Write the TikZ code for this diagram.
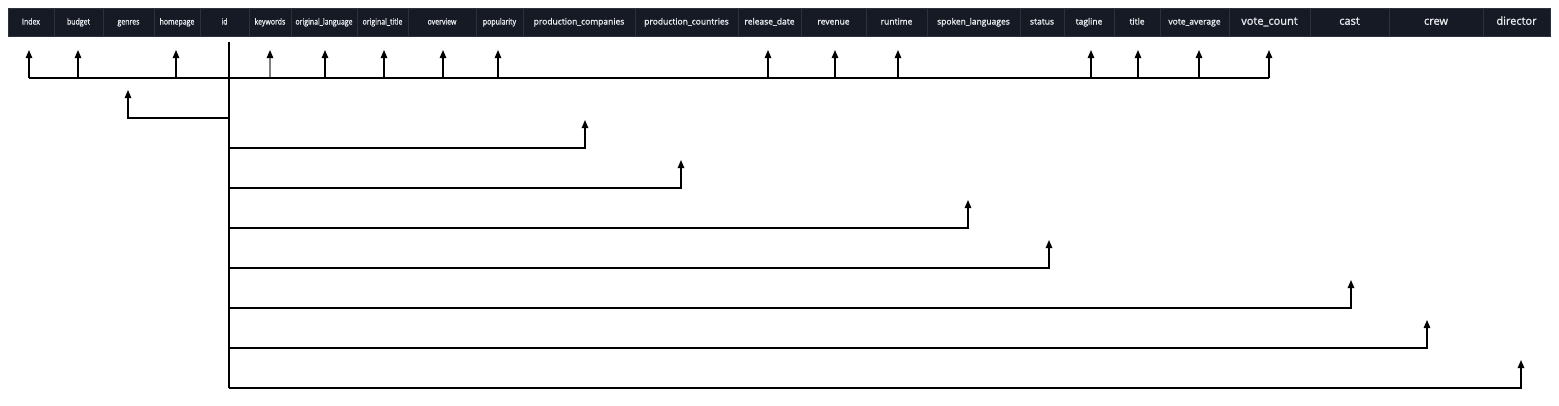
\documentclass[tikz,border=0pt]{standalone}
\usepackage{fontspec}
\usepackage{graphicx}
\setmainfont{Open Sans}
\newfontfamily\hdrfont[FakeBold=1.2]{Open Sans}
\usetikzlibrary{arrows.meta}
\definecolor{barbg}{HTML}{151A24}
\definecolor{barsep}{HTML}{2C313B}
\definecolor{bartext}{HTML}{E8EAEE}
\definecolor{keygray}{HTML}{808080}
\tikzset{
  cell/.style={fill=barbg, draw=barsep, line width=0.8pt, minimum height=28pt, inner sep=0pt, text=bartext, text height=7pt, text depth=2pt},
  smalltxt/.style={font=\hdrfont\fontsize{8.3}{9}\selectfont},
  midtxt/.style={font=\hdrfont\fontsize{8.5}{10}\selectfont},
  bigtxt/.style={font=\hdrfont\fontsize{11}{13}\selectfont, text height=8pt, text depth=2.5pt},
  ln/.style={line width=1.3pt, black},
  arr/.style={line width=1.3pt, black, -{Triangle[length=8pt,width=6.5pt,black]}},
}
\begin{document}
\begin{tikzpicture}[x=1pt,y=-1pt]
\useasboundingbox[fill=white] (0,0) rectangle (1559,405);
% header cells
\foreach \n/\a/\b/\t in {Index/8/54/Index, budget/54/103/budget, genres/103/154/genres, homepage/154/200/homepage, id/200/249/id, keywords/249/291/keywords, origlang/291/357/original\_language, origtitle/357/408/original\_title, overview/408/476/overview, popularity/476/523/popularity}
  \node[cell, smalltxt, minimum width={(\b-\a)*1pt}] (\n) at ({(\a+\b)/2},22) {\scalebox{0.84}[1]{\t}};
\foreach \n/\a/\b/\t in {prodcomp/523/635/production\_companies, prodcount/635/738/production\_countries, release/738/801/release\_date, revenue/801/866/revenue, runtime/866/927/runtime, spoken/927/1020/spoken\_languages, status/1020/1064/status, tagline/1064/1114/tagline, title/1114/1160/title, voteavg/1160/1229/vote\_average}
  \node[cell, midtxt, minimum width={(\b-\a)*1pt}] (\n) at ({(\a+\b)/2},22) {\t};
\foreach \n/\a/\b/\t in {votecount/1229/1310/vote\_count, cast/1310/1389/cast, crew/1389/1483/crew, director/1483/1550/director}
  \node[cell, bigtxt, minimum width={(\b-\a)*1pt}] (\n) at ({(\a+\b)/2},22) {\t};
% trunk from id
\coordinate (trunktop) at (229,42);
\coordinate (trunkbot) at (229,388);
\draw[ln] (trunktop) -- (trunkbot);
% top distribution line
\foreach \n/\x in {Index/29, budget/78, homepage/176, origlang/325, origtitle/384, overview/443, popularity/498, release/768, revenue/835, runtime/898, tagline/1091, title/1138, voteavg/1199, votecount/1269} {
  \coordinate (b-\n) at (\x,78);
  \coordinate (t-\n) at (\x,50);
  \draw[arr] (b-\n) -- (t-\n);
}
\coordinate (b-keywords) at (270,78);
\coordinate (t-keywords) at (270,50);
\draw[arr, keygray] (b-keywords) -- (t-keywords);
\draw[ln] (b-Index) -- (b-votecount);
% genres branch
\coordinate (s-genres) at (229,118);
\coordinate (c-genres) at (128,118);
\coordinate (t-genres) at (128,90);
\draw[arr] (s-genres) -- (c-genres) -- (t-genres);
% long branches
\foreach \n/\y/\x in {prodcomp/148/585, prodcount/188/681, spoken/228/968, status/268/1049, cast/308/1351, crew/348/1427, director/388/1521} {
  \coordinate (s-\n) at (229,\y);
  \coordinate (c-\n) at (\x,\y);
  \coordinate (t-\n) at (\x,\y-28);
  \draw[arr] (s-\n) -- (c-\n) -- (t-\n);
}
\end{tikzpicture}
\end{document}
